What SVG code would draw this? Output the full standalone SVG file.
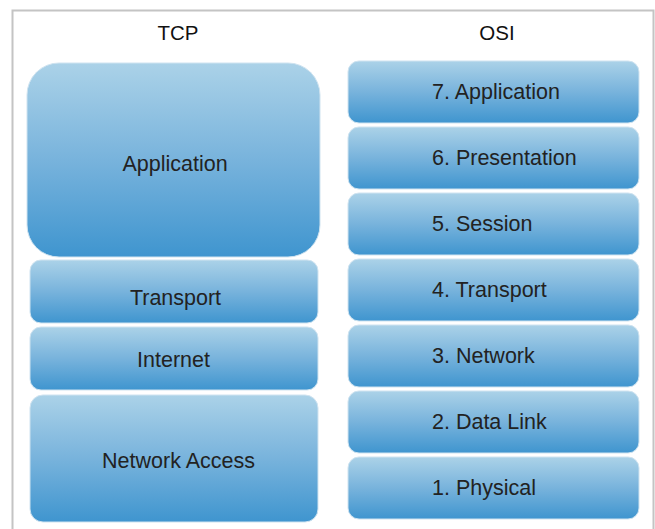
<svg xmlns="http://www.w3.org/2000/svg" width="655" height="529" viewBox="0 0 655 529">
<defs>
<linearGradient id="g" x1="0" y1="0" x2="0" y2="1">
<stop offset="0" stop-color="#abd2e8"/>
<stop offset="0.5" stop-color="#78b3dc"/>
<stop offset="1" stop-color="#3f95cf"/>
</linearGradient>
</defs>
<style>
.b{fill:url(#g);stroke:#cfe3f0;stroke-width:1}
.t{font-family:"Liberation Sans",Arial,sans-serif;font-size:21.5px;fill:#222;text-anchor:middle;dominant-baseline:central}
.o{font-family:"Liberation Sans",Arial,sans-serif;font-size:21.5px;fill:#222;text-anchor:start;dominant-baseline:central}
.h{font-family:"Liberation Sans",Arial,sans-serif;font-size:20.5px;fill:#111;text-anchor:middle}
</style>
<rect x="0" y="0" width="655" height="529" fill="#fff"/>
<path d="M12.5 529 V10.5 H653.5 V529" fill="none" stroke="#c4c4c4" stroke-width="2"/>
<text class="h" x="178" y="40">TCP</text>
<text class="h" x="497" y="40">OSI</text>
<g id="tcp-application"><rect class="b" x="27" y="63" width="293" height="194" rx="32"/><text class="t" x="175" y="164">Application</text></g>
<g id="tcp-transport"><rect class="b" x="30" y="260" width="288" height="63" rx="11"/><text class="t" x="175.5" y="298">Transport</text></g>
<g id="tcp-internet"><rect class="b" x="30" y="327" width="288" height="63" rx="11"/><text class="t" x="173.5" y="360">Internet</text></g>
<g id="tcp-network-access"><rect class="b" x="30" y="395" width="288" height="127" rx="13"/><text class="t" x="178.5" y="461">Network Access</text></g>
<g id="osi-7"><rect class="b" x="348" y="61" width="291" height="62" rx="11"/><text class="o" x="432" y="92">7. Application</text></g>
<g id="osi-6"><rect class="b" x="348" y="127" width="291" height="62" rx="11"/><text class="o" x="432" y="158">6. Presentation</text></g>
<g id="osi-5"><rect class="b" x="348" y="193" width="291" height="62" rx="11"/><text class="o" x="432" y="224">5. Session</text></g>
<g id="osi-4"><rect class="b" x="348" y="259" width="291" height="62" rx="11"/><text class="o" x="432" y="290">4. Transport</text></g>
<g id="osi-3"><rect class="b" x="348" y="325" width="291" height="62" rx="11"/><text class="o" x="432" y="356">3. Network</text></g>
<g id="osi-2"><rect class="b" x="348" y="391" width="291" height="62" rx="11"/><text class="o" x="432" y="422">2. Data Link</text></g>
<g id="osi-1"><rect class="b" x="348" y="457" width="291" height="62" rx="11"/><text class="o" x="432" y="488">1. Physical</text></g>
<g id="connectors"></g>
</svg>
